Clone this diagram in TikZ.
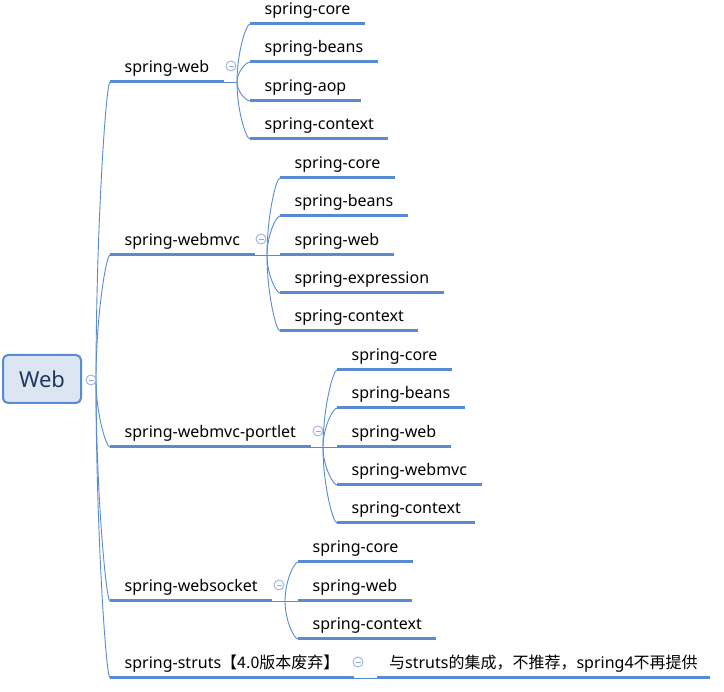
\documentclass[tikz,border=0pt]{standalone}
\usepackage{fontspec}
\setmainfont{Noto Sans}
\newfontfamily\cjk{Noto Sans CJK SC}
\usetikzlibrary{calc}
\definecolor{lineblue}{RGB}{88,139,212}
\definecolor{foldblue}{RGB}{140,172,222}
\definecolor{rootfill}{RGB}{220,230,242}
\definecolor{roottext}{RGB}{31,56,96}
\tikzset{
  uline/.style={draw=lineblue, line width=3pt},
  conn/.style={draw=lineblue, line width=0.9pt},
  topic/.style={anchor=south west, inner xsep=14.5pt, inner ysep=5pt, text height=12pt, text depth=4pt,
    font=\fontsize{16}{18}\selectfont,
    append after command={(\tikzlastnode.south west) edge[uline] (\tikzlastnode.south east)}},
  rootbox/.style={draw=lineblue, fill=rootfill, rounded corners=5pt, line width=2pt,
    minimum width=78pt, minimum height=48pt, text=roottext, font=\fontsize{22}{26}\selectfont},
  branch/.style={to path={.. controls ($(\tikztostart)!.5!(\tikztostart|-\tikztotarget)$) and ([xshift=-4pt]\tikztotarget) .. (\tikztotarget)}},
  fold/.style={circle, draw=foldblue, fill=white, minimum size=10pt, inner sep=0pt, line width=0.8pt,
    path picture={\draw[foldblue, line width=0.8pt] ([xshift=-2.5pt]path picture bounding box.center) -- ([xshift=2.5pt]path picture bounding box.center);}}
}
\begin{document}
\begin{tikzpicture}[x=1pt, y=-1pt]
\useasboundingbox (0,0) rectangle (724,692);
% root
\node[rootbox] (root) at (42,379) {Web};
\coordinate (broot) at (96,380);
% first level
\node[topic] (web) at (110,82) {spring-web};
\node[topic] (mvc) at (110,255) {spring-webmvc};
\node[topic] (pt) at (110,447) {spring-webmvc-portlet};
\node[topic] (sk) at (110,601) {spring-websocket};
\node[topic] (st) at (110,678) {spring-struts{\cjk 【4.0版本废弃】}};
\draw[conn] (broot) to[branch] (web.south west);
\draw[conn] (broot) to[branch] (mvc.south west);
\draw[conn] (broot) to[branch] (pt.south west);
\draw[conn] (broot) to[branch] (sk.south west);
\draw[conn] (broot) to[branch] (st.south west);
\node[fold] (froot) at (91,380) {};
% spring-web
\node[topic] (webcore) at (250,24) {spring-core};
\node[topic] (webbeans) at (250,62) {spring-beans};
\node[topic] (webaop) at (250,101) {spring-aop};
\node[topic] (webctx) at (250,139) {spring-context};
\coordinate (bweb) at (237,82);
\draw[conn] (web.south east) -- (bweb);
\draw[conn] (bweb) to[branch] (webcore.south west);
\draw[conn] (bweb) to[branch] (webbeans.south west);
\draw[conn] (bweb) to[branch] (webaop.south west);
\draw[conn] (bweb) to[branch] (webctx.south west);
\node[fold] (fweb) at (231,66) {};
% spring-webmvc
\node[topic] (mvccore) at (280,178) {spring-core};
\node[topic] (mvcbeans) at (280,216) {spring-beans};
\node[topic] (mvcweb) at (280,255) {spring-web};
\node[topic] (mvcexpr) at (280,293) {spring-expression};
\node[topic] (mvcctx) at (280,331) {spring-context};
\coordinate (bmvc) at (267,255);
\draw[conn] (mvc.south east) -- (mvcweb.south west);
\draw[conn] (bmvc) to[branch] (mvccore.south west);
\draw[conn] (bmvc) to[branch] (mvcbeans.south west);
\draw[conn] (bmvc) to[branch] (mvcexpr.south west);
\draw[conn] (bmvc) to[branch] (mvcctx.south west);
\node[fold] (fmvc) at (261,239) {};
% spring-webmvc-portlet
\node[topic] (ptcore) at (337,370) {spring-core};
\node[topic] (ptbeans) at (337,408) {spring-beans};
\node[topic] (ptweb) at (337,447) {spring-web};
\node[topic] (ptmvc) at (337,485) {spring-webmvc};
\node[topic] (ptctx) at (337,523) {spring-context};
\coordinate (bpt) at (323,447);
\draw[conn] (pt.south east) -- (ptweb.south west);
\draw[conn] (bpt) to[branch] (ptcore.south west);
\draw[conn] (bpt) to[branch] (ptbeans.south west);
\draw[conn] (bpt) to[branch] (ptmvc.south west);
\draw[conn] (bpt) to[branch] (ptctx.south west);
\node[fold] (fpt) at (318,431) {};
% spring-websocket
\node[topic] (skcore) at (298,562) {spring-core};
\node[topic] (skweb) at (298,601) {spring-web};
\node[topic] (skctx) at (298,639) {spring-context};
\coordinate (bsk) at (285,601);
\draw[conn] (sk.south east) -- (skweb.south west);
\draw[conn] (bsk) to[branch] (skcore.south west);
\draw[conn] (bsk) to[branch] (skctx.south west);
\node[fold] (fsk) at (279,585) {};
% spring-struts
\node[topic, inner xsep=12pt] (stnote) at (377,678) {{\cjk 与}struts{\cjk 的集成，不推荐，}spring4{\cjk 不再提供}};
\draw[conn] (st.south east) -- (stnote.south west);
\node[fold] (fst) at (358,662) {};
\end{tikzpicture}
\end{document}
